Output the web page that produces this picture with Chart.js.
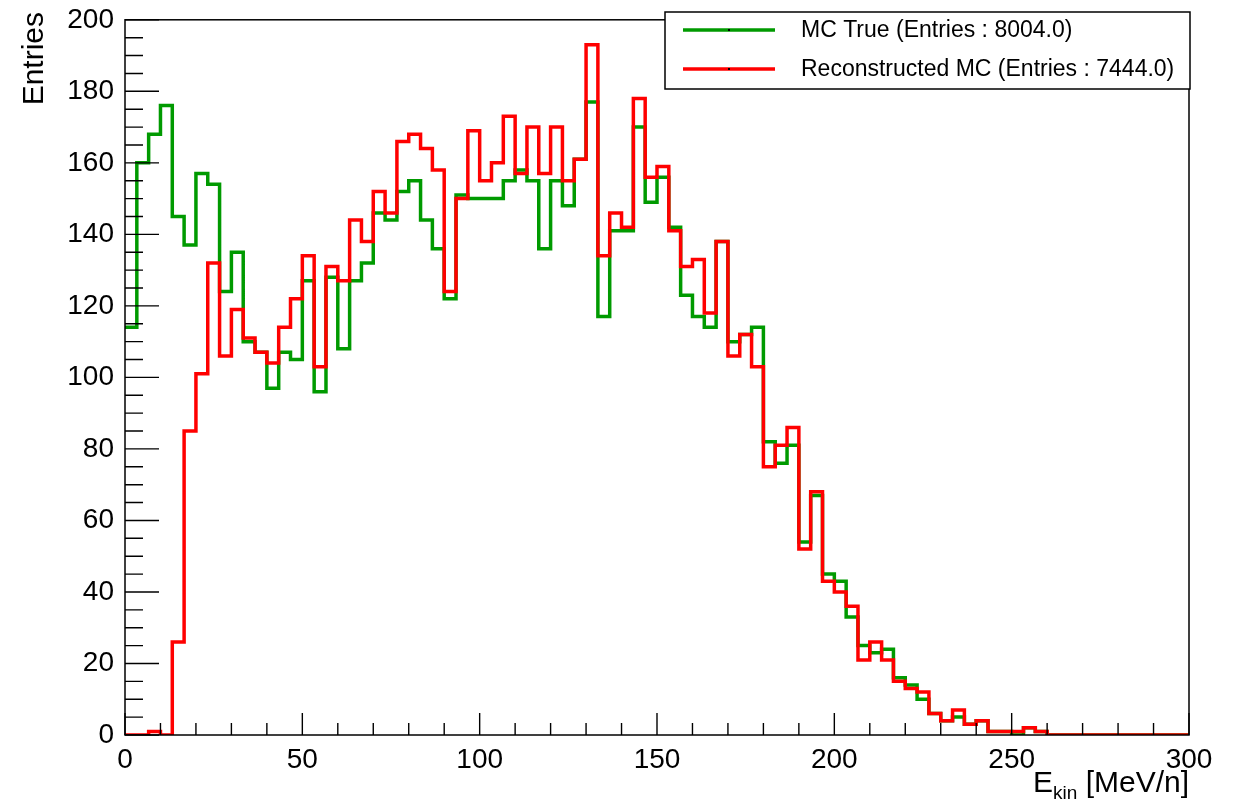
<!DOCTYPE html>
<html>
<head>
<meta charset="utf-8">
<script src="https://cdn.jsdelivr.net/npm/chart.js@4.4.1/dist/chart.umd.min.js"></script>
<style>
  html, body { margin: 0; padding: 0; background: #ffffff; }
  #wrap { width: 1235px; height: 805px; }
</style>
</head>
<body>
<div id="wrap"><canvas id="c" width="1235" height="805"></canvas></div>
<script>
// Histogram binning: 90 bins over 0..300 MeV/n
const energyMin = 0;
const energyMax = 300;
const binCount = 90;

// MC True counts per bin
const mcTrue = [
  114, 160, 168, 176, 145, 137, 157, 154, 124, 135,
  110, 107,  97, 107, 105, 127,  96, 128, 108, 127,
  132, 146, 144, 152, 155, 144, 136, 122, 151, 150,
  150, 150, 155, 158, 155, 136, 155, 148, 161, 177,
  117, 141, 141, 170, 149, 156, 142, 123, 117, 114,
  138, 110, 112, 114,  82,  76,  81,  54,  67,  45,
   43,  33,  25,  23,  24,  16,  14,  10,   6,   4,
    5,   3,   4,   1,   1,   0,   2,   1,   0,   0,
    0,   0,   0,   0,   0,   0,   0,   0,   0,   0
];

// Reconstructed MC counts per bin
const mcReco = [
    0,   0,   1,   0,  26,  85, 101, 132, 106, 119,
  111, 107, 104, 114, 122, 134, 103, 131, 127, 144,
  138, 152, 146, 166, 168, 164, 158, 124, 150, 169,
  155, 160, 173, 157, 170, 157, 170, 155, 161, 193,
  134, 146, 142, 178, 156, 159, 141, 131, 133, 118,
  138, 106, 112, 103,  75,  81,  86,  52,  68,  43,
   40,  36,  21,  26,  21,  15,  13,  12,   6,   4,
    7,   3,   4,   1,   1,   1,   2,   1,   0,   0,
    0,   0,   0,   0,   0,   0,   0,   0,   0,   0
];

const seriesLabels = ['MC True (Entries : 8004.0)', 'Reconstructed MC (Entries : 7444.0)'];
const seriesColors = ['#009a00', '#ff0000'];

// Axis ranges and tick spacing
const yMin = 0, yMax = 200;
const xMajorStep = 50, xMinorStep = 10;
const yMajorStep = 20, yMinorStep = 5;

const FONT = '"Liberation Sans", Arial, Helvetica, sans-serif';

// Turn per-bin counts into step points at the lower bin edges (plus a closing point)
function toSteps(counts) {
  const w = (energyMax - energyMin) / binCount;
  const pts = counts.map((c, i) => ({ x: energyMin + i * w, y: c }));
  pts.push({ x: energyMax, y: counts[counts.length - 1] });
  return pts;
}

// Frame, inward tick marks, axis titles and the boxed legend
const histDecor = {
  id: 'histDecor',
  afterDatasetsDraw(chart) {
    const { ctx, chartArea: a, scales: { x, y } } = chart;
    ctx.save();
    ctx.strokeStyle = '#000';
    ctx.lineWidth = 1.5;
    ctx.strokeRect(a.left, a.top, a.right - a.left, a.bottom - a.top);

    ctx.lineWidth = 1.4;
    ctx.beginPath();
    for (let v = energyMin; v <= energyMax + 1e-6; v += xMinorStep) {
      const px = x.getPixelForValue(v);
      const len = (Math.abs(v % xMajorStep) < 1e-6) ? 22 : 12;
      ctx.moveTo(px, a.bottom);
      ctx.lineTo(px, a.bottom - len);
    }
    for (let v = yMin; v <= yMax + 1e-6; v += yMinorStep) {
      const py = y.getPixelForValue(v);
      const len = (Math.abs(v % yMajorStep) < 1e-6) ? 34 : 18;
      ctx.moveTo(a.left, py);
      ctx.lineTo(a.left + len, py);
    }
    ctx.stroke();
    ctx.restore();
  },
  afterDraw(chart) {
    const { ctx, chartArea: a } = chart;
    ctx.save();
    ctx.fillStyle = '#000';

    // y title
    ctx.save();
    ctx.translate(43, 12);
    ctx.rotate(-Math.PI / 2);
    ctx.font = '30px ' + FONT;
    ctx.textAlign = 'right';
    ctx.textBaseline = 'alphabetic';
    ctx.fillText('Entries', 0, 0);
    ctx.restore();

    // x title: E_kin [MeV/n]
    const bigFont = '30px ' + FONT, subFont = '19px ' + FONT;
    ctx.font = bigFont;
    const wE = ctx.measureText('E').width;
    const wRest = ctx.measureText(' [MeV/n]').width;
    ctx.font = subFont;
    const wSub = ctx.measureText('kin').width;
    let sx = a.right - (wE + wSub + wRest);
    ctx.textAlign = 'left';
    ctx.textBaseline = 'alphabetic';
    ctx.font = bigFont;
    ctx.fillText('E', sx, 792);
    ctx.font = subFont;
    ctx.fillText('kin', sx + wE, 799);
    ctx.font = bigFont;
    ctx.fillText(' [MeV/n]', sx + wE + wSub, 792);

    // legend box
    const L = { left: 665, top: 12, right: 1190, bottom: 89 };
    ctx.fillStyle = '#fff';
    ctx.fillRect(L.left, L.top, L.right - L.left, L.bottom - L.top);
    ctx.strokeStyle = '#000';
    ctx.lineWidth = 1.5;
    ctx.strokeRect(L.left, L.top, L.right - L.left, L.bottom - L.top);
    const rows = [30, 69];
    chart.data.datasets.forEach((ds) => {
      const ry = rows[ds.legendRow];
      ctx.strokeStyle = ds.borderColor;
      ctx.lineWidth = 3.5;
      ctx.beginPath();
      ctx.moveTo(683, ry);
      ctx.lineTo(775, ry);
      ctx.stroke();
      ctx.fillStyle = '#000';
      ctx.fillRect(728, ry - 1, 2, 2);
      ctx.font = '23px ' + FONT;
      ctx.textAlign = 'left';
      ctx.textBaseline = 'middle';
      ctx.fillText(ds.label, 801, ry + 1);
    });
    ctx.restore();
  }
};

new Chart(document.getElementById('c'), {
  type: 'line',
  data: {
    datasets: [
      {
        label: seriesLabels[1],
        data: toSteps(mcReco),
        borderColor: seriesColors[1],
        legendRow: 1,
        order: 0
      },
      {
        label: seriesLabels[0],
        data: toSteps(mcTrue),
        borderColor: seriesColors[0],
        legendRow: 0,
        order: 1
      }
    ].map(d => Object.assign({
      stepped: 'before',
      borderWidth: 3.5,
      pointRadius: 0,
      fill: false,
      tension: 0,
      borderJoinStyle: 'miter',
      borderCapStyle: 'butt'
    }, d))
  },
  options: {
    responsive: false,
    animation: false,
    devicePixelRatio: 1,
    layout: { padding: { top: 9, right: 46, left: 0, bottom: 0 } },
    plugins: { legend: { display: false }, tooltip: { enabled: false } },
    scales: {
      x: {
        type: 'linear',
        min: energyMin,
        max: energyMax,
        grid: { display: false },
        border: { display: false },
        ticks: {
          stepSize: xMajorStep,
          color: '#000',
          padding: 0,
          maxRotation: 0,
          font: { family: FONT, size: 28 }
        },
        afterFit(s) { s.height = 70; }
      },
      y: {
        min: yMin,
        max: yMax,
        grid: { display: false },
        border: { display: false },
        ticks: {
          stepSize: yMajorStep,
          color: '#000',
          padding: 3,
          font: { family: FONT, size: 28 }
        },
        afterFit(s) { s.width = 125; }
      }
    }
  },
  plugins: [histDecor]
});
</script>
</body>
</html>
